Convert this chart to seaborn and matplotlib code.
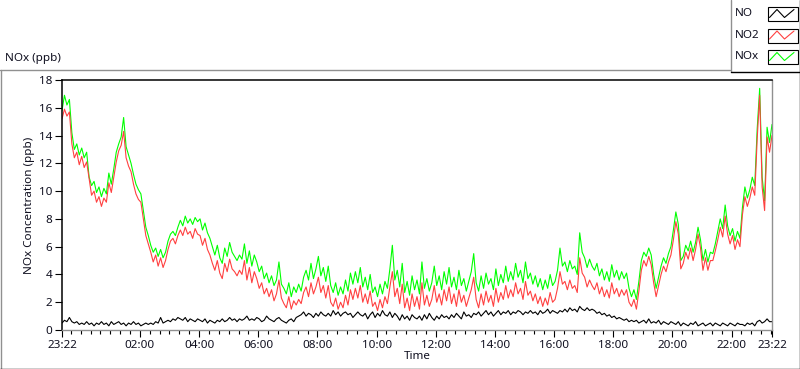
import pandas as pd
import matplotlib
matplotlib.use("Agg")
import matplotlib.pyplot as plt
import matplotlib.dates as mdates
from matplotlib.lines import Line2D
from matplotlib.patches import Rectangle
import seaborn as sns

# readings every 5 minutes, 23:22 -> 23:22 next day (ppb)
start = "2021-01-01 23:22"
step = "5min"

nox = [15.8, 16.9, 16.2, 16.6, 14.2, 13.0, 13.4, 12.6, 13.1, 12.4, 12.8, 11.0,
       10.4, 10.7, 9.9, 10.3, 9.6, 10.2, 9.8, 11.3, 10.5, 11.6, 12.8, 13.4,
       13.9, 15.3, 13.2, 12.6, 12.0, 11.2, 10.5, 10.1, 9.8, 8.6, 7.4, 6.8,
       6.1, 5.6, 5.9, 5.3, 5.8, 5.2, 5.6, 6.4, 6.9, 7.1, 6.8, 7.4,
       7.9, 7.5, 8.2, 7.7, 8.0, 7.6, 8.1, 7.8, 8.0, 7.2, 7.7, 7.0,
       6.6, 6.0, 5.4, 6.1, 5.2, 4.8, 5.9, 5.3, 6.3, 5.6, 5.3, 5.0,
       5.4, 5.1, 6.2, 4.8, 5.7, 4.6, 5.4, 4.9, 4.2, 4.6, 3.7, 4.1,
       3.4, 3.9, 3.2, 3.6, 4.9, 3.3, 3.0, 2.6, 3.4, 2.4, 3.1, 2.7,
       3.3, 2.8, 3.8, 4.3, 3.6, 4.8, 3.7, 4.4, 5.3, 3.9, 4.5, 3.5,
       4.6, 3.2, 2.7, 3.4, 2.5, 3.1, 2.6, 3.6, 2.8, 4.1, 3.3, 4.2,
       3.4, 4.5, 3.1, 3.8, 2.9, 4.0, 2.7, 3.1, 2.4, 3.3, 2.6, 3.5,
       3.0, 4.4, 6.1, 3.6, 4.3, 3.1, 4.8, 2.7, 3.5, 2.5, 3.9, 2.9,
       3.6, 2.6, 4.9, 3.0, 3.7, 2.8, 3.4, 4.6, 3.2, 3.9, 2.9, 4.2,
       3.3, 4.5, 3.1, 3.8, 2.9, 4.3, 3.2, 3.7, 2.8, 3.5, 4.2, 5.5,
       3.4, 2.8, 3.9, 3.0, 4.1, 3.3, 3.7, 2.9, 4.4, 3.2, 4.0, 3.4,
       4.6, 3.5, 4.2, 3.6, 4.8, 3.8, 4.3, 3.4, 4.9, 3.7, 4.1, 3.3,
       3.9, 3.1, 3.7, 2.9, 3.6, 3.0, 4.0, 3.2, 3.5, 4.3, 5.9, 4.6,
       4.9, 4.2, 5.0, 4.4, 4.6, 4.0, 7.0, 5.6, 5.2, 4.5, 5.1, 4.6,
       4.3, 4.8, 3.9, 4.4, 3.6, 4.2, 3.5, 4.7, 3.8, 4.3, 3.6, 4.2,
       3.7, 4.1, 3.0, 2.4, 2.9, 2.2, 3.5, 5.0, 5.6, 5.3, 5.9, 5.4,
       4.0, 3.0, 3.8, 4.6, 5.2, 4.8, 5.5, 6.0, 7.2, 8.5, 7.6, 5.0,
       5.3, 6.1, 5.7, 6.4, 5.6, 6.3, 7.4, 6.5, 5.0, 5.8, 4.9, 5.6,
       5.5, 6.2, 7.1, 8.0, 7.3, 9.0, 7.5, 6.8, 7.3, 6.4, 7.1, 6.6,
       8.8, 10.3, 9.5, 10.1, 11.0, 10.4, 14.5, 17.4, 11.0, 9.3, 14.6, 13.5,
       14.8]

no2 = [15.2, 15.9, 15.4, 15.7, 13.4, 12.4, 12.8, 11.9, 12.5, 11.7, 12.1, 10.9,
       9.7, 10.0, 9.2, 9.6, 8.9, 9.5, 9.2, 10.6, 9.9, 11.0, 12.1, 12.9,
       13.3, 14.3, 12.4, 11.8, 11.4, 10.5, 9.8, 9.4, 9.2, 8.0, 6.8, 6.2,
       5.6, 4.9, 5.4, 4.6, 5.2, 4.5, 5.0, 5.8, 6.4, 6.6, 6.2, 6.8,
       7.2, 6.8, 7.4, 6.9, 7.1, 6.6, 7.3, 6.9, 6.8, 6.1, 6.6, 5.8,
       5.4, 4.8, 4.3, 5.0, 4.1, 3.7, 4.8, 4.2, 5.1, 4.4, 4.2, 3.9,
       4.3, 4.0, 5.0, 3.6, 4.5, 3.4, 4.2, 3.7, 3.0, 3.4, 2.6, 3.0,
       2.4, 2.9, 2.1, 2.6, 3.6, 2.3, 1.9, 1.6, 2.4, 1.5, 2.1, 1.8,
       2.2, 1.9, 2.7, 3.1, 2.4, 3.4, 2.6, 3.1, 3.8, 2.7, 3.2, 2.3,
       3.2, 2.0, 1.7, 2.3, 1.5, 2.0, 1.6, 2.5, 1.8, 2.9, 2.2, 3.0,
       2.3, 3.2, 2.0, 2.6, 1.9, 2.8, 1.7, 2.0, 1.4, 2.2, 1.6, 2.4,
       1.9, 3.1, 4.2, 2.4, 3.0, 1.9, 3.3, 1.6, 2.3, 1.4, 2.6, 1.7,
       2.4, 1.5, 3.4, 1.8, 2.5, 1.7, 2.2, 3.2, 2.0, 2.6, 1.8, 2.9,
       2.1, 3.1, 1.9, 2.6, 1.7, 2.9, 2.0, 2.5, 1.7, 2.3, 2.9, 3.8,
       2.2, 1.6, 2.6, 1.8, 2.8, 2.0, 2.5, 1.7, 3.0, 2.0, 2.7, 2.2,
       3.2, 2.3, 2.9, 2.4, 3.4, 2.6, 3.0, 2.2, 3.5, 2.5, 2.8, 2.1,
       2.6, 1.9, 2.4, 1.7, 2.3, 1.8, 2.7, 2.0, 2.2, 3.0, 4.2, 3.3,
       3.5, 2.9, 3.6, 3.0, 3.2, 2.7, 5.2, 4.1, 3.8, 3.1, 3.6, 3.2,
       2.9, 3.4, 2.6, 3.1, 2.4, 2.9, 2.3, 3.4, 2.6, 3.0, 2.4, 2.9,
       2.5, 2.9, 2.0, 1.7, 2.2, 1.5, 2.8, 4.3, 5.0, 4.6, 5.3, 4.7,
       3.4, 2.4, 3.2, 4.0, 4.6, 4.2, 4.9, 5.4, 6.5, 7.8, 6.9, 4.4,
       4.8, 5.6, 5.1, 5.9, 5.0, 5.8, 6.9, 5.9, 4.3, 5.2, 4.3, 5.0,
       5.0, 5.7, 6.5, 7.4, 6.7, 8.2, 6.9, 6.2, 6.8, 5.8, 6.5, 6.0,
       8.3, 9.6, 8.9, 9.5, 10.3, 9.7, 13.8, 16.9, 10.3, 8.6, 13.9, 12.8,
       14.0]

no = [0.5, 0.7, 0.6, 0.9, 0.6, 0.5, 0.6, 0.4, 0.5, 0.4, 0.6, 0.4,
      0.5, 0.3, 0.5, 0.4, 0.6, 0.4, 0.5, 0.3, 0.6, 0.4, 0.5, 0.6,
      0.4, 0.5, 0.3, 0.5, 0.4, 0.6, 0.4, 0.5, 0.3, 0.4, 0.5, 0.4,
      0.5, 0.4, 0.6, 0.5, 0.9, 0.5, 0.6, 0.7, 0.6, 0.8, 0.7, 0.9,
      0.8, 0.7, 0.9, 0.6, 0.8, 0.7, 0.6, 0.8, 0.7, 0.6, 0.8, 0.5,
      0.7, 0.6, 0.5, 0.7, 0.6, 0.8, 0.6, 0.7, 0.9, 0.7, 0.8, 0.6,
      0.8, 0.7, 0.8, 1.0, 0.7, 0.8, 0.7, 0.9, 0.8, 0.6, 0.7, 1.0,
      0.8, 0.7, 0.6, 0.8, 0.9, 0.7, 0.6, 0.5, 0.7, 0.8, 0.6, 0.9,
      1.0, 1.1, 1.3, 1.0, 1.2, 1.1, 0.9, 1.2, 1.0, 1.3, 1.1, 1.0,
      1.2, 1.0, 1.4, 1.1, 1.3, 1.0, 1.2, 1.3, 1.1, 1.2, 0.9, 1.1,
      1.3, 1.1, 1.0, 1.2, 0.8, 1.1, 1.3, 0.9, 1.2, 1.0, 1.4, 1.1,
      1.0, 1.3, 0.9, 1.2, 1.0, 0.7, 1.1, 0.8, 1.0, 0.7, 1.1, 0.9,
      0.8, 1.0, 0.7, 1.1, 0.8, 1.2, 0.9, 0.7, 1.0, 0.8, 1.1, 0.9,
      1.0, 0.8, 1.1, 0.9, 1.2, 1.0, 0.8, 1.3, 1.0, 1.1, 0.9, 1.2,
      1.1, 1.3, 1.0, 1.2, 1.4, 1.1, 1.3, 1.0, 1.2, 1.4, 1.1, 1.3,
      1.2, 1.4, 1.1, 1.3, 1.2, 1.4, 1.3, 1.1, 1.3, 1.2, 1.4, 1.2,
      1.3, 1.1, 1.4, 1.2, 1.3, 1.5, 1.2, 1.4, 1.3, 1.2, 1.4, 1.3,
      1.5, 1.3, 1.6, 1.4, 1.5, 1.3, 1.7, 1.5, 1.4, 1.6, 1.4, 1.5,
      1.4, 1.2, 1.3, 1.1, 1.2, 1.0, 1.1, 0.9, 1.0, 0.8, 0.9, 0.8,
      0.7, 0.8, 0.6, 0.7, 0.6, 0.7, 0.5, 0.6, 0.7, 0.5, 0.8, 0.5,
      0.6, 0.5, 0.7, 0.4, 0.6, 0.5, 0.4, 0.6, 0.5, 0.4, 0.6, 0.3,
      0.5, 0.4, 0.3, 0.5, 0.4, 0.6, 0.3, 0.4, 0.5, 0.3, 0.4, 0.5,
      0.3, 0.5, 0.4, 0.3, 0.5, 0.4, 0.3, 0.5, 0.4, 0.3, 0.5, 0.4,
      0.4, 0.3, 0.5, 0.4, 0.5, 0.3, 0.6, 0.7, 0.5, 0.6, 0.8, 0.6,
      0.6]

series_names = ["NO", "NO2", "NOx"]
series_colors = ["#000000", "#ff4040", "#00ff00"]

times = pd.date_range(start, periods=len(nox), freq=step)
df = pd.DataFrame({"Time": times, "NO": no, "NO2": no2, "NOx": nox})
long = df.melt(id_vars="Time", var_name="series", value_name="ppb")

sns.set_style("white")
plt.rcParams["font.family"] = ["Noto Sans", "DejaVu Sans"]

W, H = 800, 369
fig = plt.figure(figsize=(W / 100, H / 100), dpi=100)
ax = fig.add_axes([62 / W, 39 / H, 710 / W, 250 / H])

palette = dict(zip(series_names, series_colors))
sns.lineplot(data=long, x="Time", y="ppb", hue="series",
             hue_order=["NOx", "NO2", "NO"], palette=palette,
             estimator=None, lw=0.8, legend=False, ax=ax)

ax.set_xlim(times[0], times[-1])
ax.set_ylim(0, 18)
ax.set_yticks(range(0, 19, 2))

major = [times[0]] + list(pd.date_range("2021-01-02 02:00", "2021-01-02 22:00", freq="2h")) + [times[-1]]
minor = pd.date_range("2021-01-01 23:40", "2021-01-02 23:20", freq="20min")
ax.set_xticks(mdates.date2num(major))
ax.set_xticks(mdates.date2num(minor), minor=True)
ax.xaxis.set_major_formatter(mdates.DateFormatter("%H:%M"))

txt = "#101020"
fs = 8.4
ax.tick_params(axis="x", which="major", bottom=True, length=5, width=0.8,
               color="black", labelsize=fs, pad=2, labelcolor=txt)
ax.tick_params(axis="x", which="minor", bottom=True, length=3, width=0.8, color="black")
ax.tick_params(axis="y", left=True, length=5, width=0.8, color="black",
               labelsize=fs, pad=2, labelcolor=txt)

ax.set_xlabel("Time", fontsize=fs, labelpad=0, color=txt)
ax.set_ylabel("NOx Concentration (ppb)", fontsize=fs, labelpad=3, color=txt)

for side in ["top", "left"]:
    ax.spines[side].set_color("black")
    ax.spines[side].set_linewidth(1.1)
for side in ["bottom", "right"]:
    ax.spines[side].set_color("#909090")
    ax.spines[side].set_linewidth(1)


def fx(x):
    return x / W


def fy(y):
    return 1 - y / H


# panel frame
grey = "#909090"
fig.add_artist(Line2D([fx(0), fx(730)], [fy(69.5)] * 2, color=grey, lw=1, transform=fig.transFigure))
fig.add_artist(Line2D([fx(0.5)] * 2, [fy(69.5), fy(369)], color=grey, lw=1, transform=fig.transFigure))
fig.add_artist(Line2D([fx(0), fx(800)], [fy(368.5)] * 2, color="black", lw=1, transform=fig.transFigure))
fig.add_artist(Line2D([fx(799.5)] * 2, [fy(0), fy(369)], color="black", lw=1, transform=fig.transFigure))

fig.text(fx(5), fy(59), "NOx (ppb)", fontsize=fs, va="center", ha="left", color=txt)

# legend box
fig.add_artist(Line2D([fx(730.5)] * 2, [fy(0), fy(71.5)], color=grey, lw=1, transform=fig.transFigure))
fig.add_artist(Line2D([fx(730.5), fx(800)], [fy(71.5)] * 2, color="black", lw=1, transform=fig.transFigure))
for i, (name, col) in enumerate(zip(series_names, series_colors)):
    top = 7 + i * 21.5
    fig.text(fx(735), fy(top + 6.5), name, fontsize=fs, va="center", ha="left", color=txt)
    fig.add_artist(Rectangle((fx(768), fy(top + 14)), 30 / W, 14 / H, facecolor="white",
                             edgecolor="black", lw=0.8, transform=fig.transFigure))
    fig.add_artist(Line2D([fx(769.5), fx(777), fx(784.5), fx(794)],
                          [fy(top + 10.5), fy(top + 2.5), fy(top + 10.5), fy(top + 2.5)],
                          color=col, lw=0.8, transform=fig.transFigure))

fig.savefig("out.png", dpi=100)
